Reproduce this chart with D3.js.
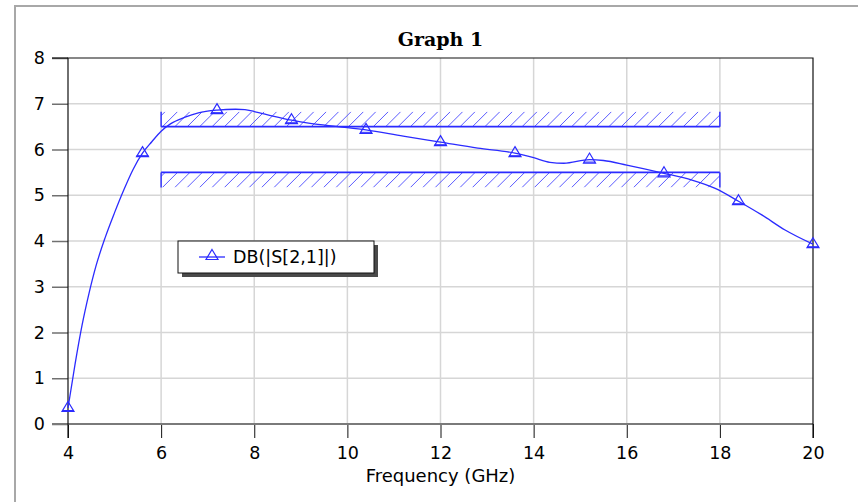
<!DOCTYPE html>
<html>
<head>
<meta charset="utf-8">
<script src="https://cdn.jsdelivr.net/npm/d3@7/dist/d3.min.js"></script>
<style>
  html, body { margin: 0; padding: 0; background: #ffffff; }
  svg { display: block; }
</style>
</head>
<body>
<svg id="chart" width="858" height="502"></svg>
<script>
// Measured |S21| in dB against frequency in GHz
const freqGHz = [4.0, 4.15, 4.3, 4.45, 4.6, 4.8, 5.0, 5.2, 5.4, 5.6, 5.8, 6.0, 6.2, 6.5, 6.8,
                 7.2, 7.6, 7.8, 8.0, 8.4, 8.8, 9.2, 9.8, 10.4, 11.2, 12.0, 12.8, 13.6, 14.0,
                 14.35, 14.65, 15.2, 15.5, 16.0, 16.8, 17.4, 17.9, 18.4, 18.9, 19.4, 20.0];
const s21dB   = [0.35, 1.3, 2.15, 2.85, 3.45, 4.08, 4.62, 5.12, 5.57, 5.92, 6.17, 6.4, 6.56, 6.7, 6.8,
                 6.86, 6.88, 6.87, 6.83, 6.73, 6.64, 6.57, 6.5, 6.43, 6.29, 6.16, 6.03, 5.92, 5.82,
                 5.72, 5.70, 5.78, 5.76, 5.66, 5.48, 5.33, 5.15, 4.87, 4.57, 4.24, 3.93];
// Frequencies where a marker is placed on the trace
const markerFreqs = [4, 5.6, 7.2, 8.8, 10.4, 12, 13.6, 15.2, 16.8, 18.4, 20];

// Spec goals: level in dB, frequency span, and which side is hatched
const goalLevel = [6.5, 5.5];
const goalStart = [6, 6];
const goalStop  = [18, 18];
const goalSide  = ["above", "below"];

const xTicks = [4, 6, 8, 10, 12, 14, 16, 18, 20];
const yTicks = [0, 1, 2, 3, 4, 5, 6, 7, 8];

const titleText = "Graph 1";
const xTitle = "Frequency (GHz)";
const seriesName = "DB(|S[2,1]|)";

const svg = d3.select("#chart");
const W = 858, H = 502;
const pLeft = 68, pRight = 813, pTop = 58, pBottom = 424;

const x = d3.scaleLinear().domain([4, 20]).range([pLeft, pRight]);
const y = d3.scaleLinear().domain([0, 8]).range([pBottom, pTop]);

const blue = "#2b2bff";
const sans = "'DejaVu Sans', Verdana, sans-serif";

// Outer window frame
svg.append("path")
  .attr("d", `M15,${H} L15,6 L${W},6`)
  .attr("fill", "none").attr("stroke", "#a8a8a8").attr("stroke-width", 2);

// Title
svg.append("text")
  .attr("x", (pLeft + pRight) / 2).attr("y", 46)
  .attr("text-anchor", "middle")
  .attr("font-family", "'DejaVu Serif', 'Liberation Serif', serif")
  .attr("font-weight", "bold").attr("font-size", 19)
  .attr("fill", "#000")
  .text(titleText);

// Grid
const grid = svg.append("g");
grid.selectAll("line.h").data(yTicks.filter(d => d > 0 && d < 8)).join("line")
  .attr("x1", pLeft).attr("x2", pRight)
  .attr("y1", d => y(d)).attr("y2", d => y(d))
  .attr("stroke", "#d6d6d6").attr("stroke-width", 1.5);
grid.selectAll("line.v").data(xTicks.filter(d => d > 4 && d < 20)).join("line")
  .attr("y1", pTop).attr("y2", pBottom)
  .attr("x1", d => x(d)).attr("x2", d => x(d))
  .attr("stroke", "#d6d6d6").attr("stroke-width", 1.5);

// Y axis
const yAxis = svg.append("g")
  .attr("transform", `translate(${pLeft},0)`)
  .call(d3.axisLeft(y).tickValues(yTicks).tickSize(16).tickPadding(7).tickFormat(d3.format("d")));
yAxis.select(".domain").remove();
yAxis.selectAll(".tick line").attr("stroke", "#707070").attr("stroke-width", 1.5);
yAxis.selectAll(".tick text")
  .attr("font-family", sans).attr("font-size", 17.5).attr("fill", "#000");

// X axis
const xAxis = svg.append("g")
  .attr("transform", `translate(0,${pBottom})`)
  .call(d3.axisBottom(x).tickValues(xTicks).tickSize(14).tickPadding(9).tickFormat(d3.format("d")));
xAxis.select(".domain").remove();
xAxis.selectAll(".tick line").attr("stroke", "#111").attr("stroke-width", 1);
xAxis.selectAll(".tick text")
  .attr("font-family", sans).attr("font-size", 17.5).attr("fill", "#000");

// Plot frame: dark top/left/right, heavier grey baseline at 0 dB
svg.append("line").attr("x1", pLeft - 16).attr("x2", pRight).attr("y1", y(0)).attr("y2", y(0))
  .attr("stroke", "#7a7a7a").attr("stroke-width", 2.2);
svg.append("path")
  .attr("d", `M${pLeft},${y(0) + 14} L${pLeft},${pTop} L${pRight},${pTop} L${pRight},${y(0) + 14}`)
  .attr("fill", "none").attr("stroke", "#111").attr("stroke-width", 1.2);
svg.append("line").attr("x1", pLeft - 16).attr("x2", pLeft).attr("y1", pTop).attr("y2", pTop)
  .attr("stroke", "#111").attr("stroke-width", 1.2);

// X axis title
svg.append("text")
  .attr("x", (pLeft + pRight) / 2).attr("y", 482)
  .attr("text-anchor", "middle")
  .attr("font-family", sans).attr("font-size", 18).attr("fill", "#000")
  .text(xTitle);

// Spec goal bands with hatching
const band = 15;
const goals = goalLevel.map((lv, i) => ({ lv, x0: goalStart[i], x1: goalStop[i], side: goalSide[i] }));
const defs = svg.append("defs");
goals.forEach((g, i) => {
  const ly = y(g.lv);
  const yTop = g.side === "above" ? ly - band : ly;
  const yBot = g.side === "above" ? ly : ly + band;
  const gx0 = x(g.x0), gx1 = x(g.x1);
  defs.append("clipPath").attr("id", "goalclip" + i)
    .append("rect").attr("x", gx0).attr("y", yTop).attr("width", gx1 - gx0).attr("height", band);
  const gg = svg.append("g");
  gg.append("g").attr("clip-path", `url(#goalclip${i})`)
    .selectAll("line").data(d3.range(gx0 - band + 4, gx1 + band, 12.4)).join("line")
    .attr("x1", d => d).attr("y1", yBot)
    .attr("x2", d => d + band).attr("y2", yTop)
    .attr("stroke", "#5a5aff").attr("stroke-width", 1);
  gg.append("line").attr("x1", gx0).attr("x2", gx1).attr("y1", ly).attr("y2", ly)
    .attr("stroke", blue).attr("stroke-width", 1.6);
  [gx0, gx1].forEach(vx => {
    gg.append("line").attr("x1", vx).attr("x2", vx).attr("y1", yTop).attr("y2", yBot)
      .attr("stroke", blue).attr("stroke-width", 1.4);
  });
});

// Trace
const pts = freqGHz.map((f, i) => ({ f, v: s21dB[i] }));
const line = d3.line().x(d => x(d.f)).y(d => y(d.v)).curve(d3.curveMonotoneX);
svg.append("path").datum(pts)
  .attr("d", line)
  .attr("fill", "none").attr("stroke", blue).attr("stroke-width", 1.3);

// Triangle markers
const tri = "M0,-6.5 L6,3.5 L-6,3.5 Z";
const markerPts = pts.filter(p => markerFreqs.some(m => Math.abs(m - p.f) < 1e-6));
const mk = svg.append("g").selectAll("g").data(markerPts).join("g")
  .attr("transform", d => `translate(${x(d.f)},${y(d.v)})`);
mk.append("path").attr("d", tri)
  .attr("fill", "none").attr("stroke", blue).attr("stroke-width", 1.2);
mk.append("line").attr("x1", -6).attr("x2", 6).attr("y1", 2.5).attr("y2", 2.5)
  .attr("stroke", blue).attr("stroke-width", 1);

// Legend
const lg = svg.append("g").attr("transform", "translate(178,241)");
lg.append("rect").attr("x", 4).attr("y", 4).attr("width", 196).attr("height", 32).attr("fill", "#4a4a4a");
lg.append("rect").attr("x", 0).attr("y", 0).attr("width", 196).attr("height", 32)
  .attr("fill", "#fff").attr("stroke", "#111").attr("stroke-width", 1);
lg.append("line").attr("x1", 21).attr("x2", 47).attr("y1", 16).attr("y2", 16)
  .attr("stroke", blue).attr("stroke-width", 1.3);
lg.append("path").attr("d", tri).attr("transform", "translate(34,15)")
  .attr("fill", "none").attr("stroke", blue).attr("stroke-width", 1.2);
lg.append("text").attr("x", 55).attr("y", 22)
  .attr("font-family", sans).attr("font-size", 17.5).attr("fill", "#000")
  .text(seriesName);
</script>
</body>
</html>
